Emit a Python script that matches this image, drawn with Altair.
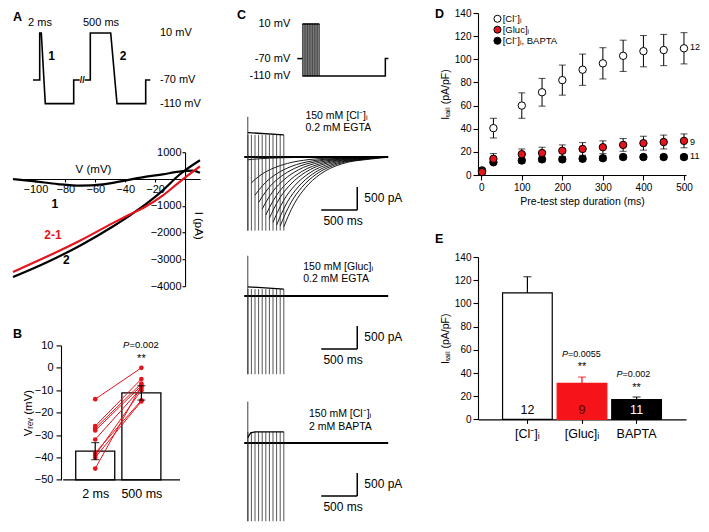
import altair as alt
import pandas as pd

FONT = "Liberation Sans"
RED = "#e3141b"
BAR_RED = "#f5141a"

# ---------------- Panel A (top): voltage protocol, schematic time units ----------------
protA1_t = [0, 6.7, 6.7, 8.3, 12.3, 40.7, 40.7, 46.7]
protA1_v = [-70, -70, 10, 10, -110, -110, -70, -70]
protA2_t = [51.7, 57.3, 57.3, 77.7, 84.0, 112.7, 112.7, 117.3]
protA2_v = [-70, -70, 10, 10, -110, -110, -70, -70]
protA_lvl_txt = ["10 mV", "-70 mV", "-110 mV"]
protA_lvl_v = [10, -70, -110]

# ---------------- Panel A (bottom): I-V curves ----------------
iv1_V = [-115, -100, -85, -70, -55, -45, -37, -26, -15, -4, 5, 10]
iv1_I = [0, -90, -190, -248, -200, -110, -25, 87, 174, 273, 310, 230]
iv2_V = [-115, -93, -70, -48, -37, -26, -15, -4, 10]
iv2_I = [-3658, -3125, -2480, -1761, -1364, -930, -434, 149, 700]
iv21_V = [-115, -93, -70, -48, -37, -26, -15, -4, 10]
iv21_I = [-3472, -2914, -2294, -1637, -1327, -1017, -620, -124, 471]

# ---------------- Panel B ----------------
b_cats = ["2 ms", "500 ms"]
b_mean = [-37.2, -11.2]
b_sem = [3.8, 3.2]
b_cell_2ms = [-14, -26, -27, -28, -32, -38, -39, -40, -45]
b_cell_500 = [0, -5, -7, -8, -9, -14.5, -10, -15, -8]

# ---------------- Panel C ----------------
sweep_dur = [2, 50, 100, 150, 200, 250, 300, 350, 400, 450, 500]   # ms
cprot_end = 2440
c_titles = [["150 mM [Cl⁻]ᵢ", "0.2 mM EGTA"],
            ["150 mM [Gluc]ᵢ", "0.2 mM EGTA"],
            ["150 mM [Cl⁻]ᵢ", "2 mM BAPTA"]]
c_title_t = [800, 770, 850]
c_title_v = [[890, 620], [630, 370], [637, 348]]
c_onset_top = [875, 875, 900]
c_spike_bottom = [-1600, -1700, -1700]
c_plateau_t = [[0, 500], [0, 500], [0, 40, 100, 500]]
c_plateau_v = [[530, 480], [200, 150], [120, 220, 240, 240]]
c1_tail_amp = [60, 560, 830, 990, 1130, 1260, 1330, 1420, 1480, 1500, 1520]
tail_dt = [0, 60, 150, 300, 500, 800, 1200, 1500]
tail_frac = [1, 0.85, 0.66, 0.44, 0.25, 0.1, 0.03, 0]
sbar_t = [1020, 1520]
sbar_v = [-1150, -650]

# ---------------- Panel D ----------------
d_dur = [2, 30, 100, 150, 200, 250, 300, 350, 400, 450, 500]
d_cl = [3, 40.5, 60, 71.5, 82, 91, 96.5, 103, 107, 108, 109.5]
d_cl_sem = [1, 8.5, 11, 12, 13, 13.5, 13.5, 13.5, 13.5, 13.5, 13.5]
d_gl = [2.5, 14, 18, 19, 21, 22.5, 24, 26, 27.5, 28.5, 29.5]
d_gl_sem = [1, 4.5, 4.5, 5, 5, 5.5, 5.5, 5.5, 6, 6, 6]
d_ba = [4, 11, 12.5, 13.5, 13.5, 14, 14.5, 15.5, 15.5, 15.5, 15.5]
d_ba_sem = [1, 1.5, 2, 2, 2, 2, 2, 2, 2, 2, 2]
d_names = ["[Cl⁻]ᵢ", "[Gluc]ᵢ", "[Cl⁻]ᵢ, BAPTA"]
d_n = ["12", "9", "11"]

# ---------------- Panel E ----------------
e_cats = ["[Cl⁻]ᵢ", "[Gluc]ᵢ", "BAPTA"]
e_mean = [109, 31, 17]
e_sem = [14, 5.5, 2.3]
e_n = ["12", "9", "11"]

# style lists
D_FILL = ["white", RED, "black"]
E_FILL = ["white", BAR_RED, "black"]
E_STROKE = ["black", BAR_RED, "black"]
E_NCOL = ["black", "#5a0000", "white"]


def letter(ch, px, py):
    return alt.Chart(pd.DataFrame({"s": [ch]})).mark_text(
        font=FONT, fontSize=12.5, fontWeight="bold", align="left", baseline="middle", color="black"
    ).encode(x=alt.value(px), y=alt.value(py), text="s:N")


def mk_enc(sx, sy, ax_x=None, ax_y=None, xtype="Q"):
    def X(f, t=xtype):
        return alt.X(f"{f}:{t}", scale=sx, axis=ax_x)

    def Y(f):
        return alt.Y(f"{f}:Q", scale=sy, axis=ax_y)
    return X, Y


def tx(df, X, Y, **mk):
    mk.setdefault("font", FONT)
    mk.setdefault("color", "black")
    return alt.Chart(df).mark_text(**mk).encode(x=X("x"), y=Y("y"), text="s:N")


# ======== A top ========
sxA = alt.Scale(domain=[-20, 117.3], nice=False, zero=False)
syA = alt.Scale(domain=[-112, 43.9], nice=False, zero=False)
XA, YA = mk_enc(sxA, syA)
a_df = pd.DataFrame({
    "t": protA1_t + protA2_t, "v": protA1_v + protA2_v,
    "seg": ["a"] * len(protA1_t) + ["b"] * len(protA2_t),
    "k": list(range(len(protA1_t))) + list(range(len(protA2_t))),
})
a_line = alt.Chart(a_df).mark_line(color="black", strokeWidth=1.6).encode(
    x=XA("t"), y=YA("v"), detail="seg:N", order="k:Q")
a_dur = tx(pd.DataFrame({"x": [7, 68], "y": [27, 27], "s": ["2 ms", "500 ms"]}), XA, YA,
           fontSize=11, baseline="middle")
a_num = tx(pd.DataFrame({"x": [18.5, 90], "y": [-29, -29], "s": ["1", "2"]}), XA, YA,
           fontSize=12, fontWeight="bold", baseline="middle")
a_lvl = tx(pd.DataFrame({"x": [127] * 3, "y": protA_lvl_v, "s": protA_lvl_txt}), XA, YA,
           fontSize=11, align="left", baseline="middle")
a_brk = tx(pd.DataFrame({"x": [49.2], "y": [-70], "s": ["//"]}), XA, YA,
           fontSize=9, fontWeight="bold", baseline="middle")
panel_a_top = alt.layer(a_line, a_dur, a_num, a_lvl, a_brk, letter("A", 0, 3.5)).properties(
    width=137.3, height=91.8)

# ======== A bottom (I-V) ========
W_IV, H_IV = 187, 134
sxIV = alt.Scale(domain=[-115, 10], nice=False, zero=False)
syIV = alt.Scale(domain=[-4000, 1000], nice=False, zero=False)
axIVx = alt.Axis(orient="bottom", offset=-(H_IV * 4 / 5), values=[-100, -80, -60, -40, -20],
                 tickSize=3, labelPadding=1, labelFontSize=11, title="V (mV)", titleX=80, titleY=-5,
                 titleAlign="center", titleBaseline="bottom", titleFontSize=11.5, format="d")
axIVy = alt.Axis(orient="left", offset=-(W_IV * 115 / 125), values=[1000, -1000, -2000, -3000, -4000],
                 tickSize=3, labelPadding=1, labelFontSize=11, title="I (pA)", titleAngle=90,
                 titleX=12, titleY=73, titleAlign="center", titleBaseline="middle", titleFontSize=11.5,
                 format="d")
XIV, YIV = mk_enc(sxIV, syIV, axIVx, axIVy)
iv_df = pd.DataFrame({
    "V": iv1_V + iv2_V + iv21_V, "I": iv1_I + iv2_I + iv21_I,
    "c": ["1"] * len(iv1_V) + ["2"] * len(iv2_V) + ["2-1"] * len(iv21_V)})
iv_df["col"] = iv_df["c"].map({"1": "black", "2": "black", "2-1": RED})
iv_lines = alt.Chart(iv_df).mark_line(strokeWidth=2.2, interpolate="monotone").encode(
    x=XIV("V"), y=YIV("I"), color=alt.Color("col:N", scale=None), detail="c:N")
iv_lab_df = pd.DataFrame({"x": [-87, -88.3, -79.4], "y": [-930, -2108, -3037], "s": ["1", "2-1", "2"]})
iv_lab_df["col"] = ["black", RED, "black"]
iv_lab = alt.Chart(iv_lab_df).mark_text(font=FONT, fontSize=12, fontWeight="bold", baseline="middle").encode(
    x=XIV("x"), y=YIV("y"), text="s:N", color=alt.Color("col:N", scale=None))
panel_a_iv = alt.layer(iv_lines, iv_lab).properties(width=W_IV, height=H_IV)

# ======== B (categories at positions 1, 2 on a linear axis) ========
PXB = 49.0                      # px per category step
sxB = alt.Scale(domain=[1 - 82 / PXB, 2 + 41 / PXB], nice=False, zero=False)
syB = alt.Scale(domain=[-50, 10], nice=False, zero=False)
axBx = alt.Axis(title=None, values=[1, 2], labelExpr=f"{b_cats}[datum.value - 1]", labelAngle=0,
                labelFontSize=12.5, ticks=False, domain=False, labelPadding=8)
axBy = alt.Axis(orient="left", offset=-48, values=list(range(-50, 11, 10)), tickSize=5, labelPadding=3,
                labelFontSize=11, title="Vᵣₑᵥ (mV)", titleFontSize=11.5, titlePadding=1)
XB, YB = mk_enc(sxB, syB, axBx, axBy)
b_pos = [i + 1 for i in range(len(b_cats))]
b_df = pd.DataFrame({"pos": b_pos, "mean": b_mean,
                     "lo": [m - s for m, s in zip(b_mean, b_sem)],
                     "hi": [m + s for m, s in zip(b_mean, b_sem)]})
b_bars = alt.Chart(b_df).mark_bar(fill="white", stroke="black", strokeWidth=1.3, size=39).encode(
    x=XB("pos"), y=YB("mean"), y2=alt.datum(-50))
b_axis_line = alt.Chart(pd.DataFrame({"x0": [1 - 34 / PXB], "x1": [2 + 41 / PXB], "y": [-50]})).mark_rule(
    color="black", strokeWidth=1.3).encode(x=XB("x0"), x2="x1:Q", y=YB("y"))
pair_df = pd.DataFrame({"cell": list(range(len(b_cell_2ms))) * 2,
                        "pos": [1] * len(b_cell_2ms) + [2] * len(b_cell_500),
                        "v": b_cell_2ms + b_cell_500})
b_lines = alt.Chart(pair_df).mark_line(color=RED, strokeWidth=1).encode(
    x=XB("pos"), y=YB("v"), detail="cell:N")
b_pts = alt.Chart(pair_df).mark_circle(color=RED, size=22, opacity=1).encode(x=XB("pos"), y=YB("v"))
b_err = alt.Chart(b_df).mark_rule(color="black", strokeWidth=1.2).encode(
    x=XB("pos"), y=YB("lo"), y2="hi:Q")
b_cap = alt.Chart(b_df).transform_fold(["lo", "hi"], as_=["w", "val"]).mark_tick(
    color="black", thickness=1.2, size=8, orient="horizontal").encode(x=XB("pos"), y=YB("val"))
b_p1 = tx(pd.DataFrame({"x": [2], "y": [10], "s": ["P"]}), XB, YB,
          fontSize=9.5, fontStyle="italic", align="right", dx=-12, baseline="middle")
b_p2 = tx(pd.DataFrame({"x": [2], "y": [10], "s": ["=0.002"]}), XB, YB,
          fontSize=9.5, align="left", dx=-12, baseline="middle")
b_st = tx(pd.DataFrame({"x": [2], "y": [4], "s": ["**"]}), XB, YB, fontSize=11, baseline="middle")
panel_b = alt.layer(b_bars, b_axis_line, b_lines, b_pts, b_err, b_cap, b_p1, b_p2, b_st,
                    letter("B", 0, -11)).properties(width=172, height=134.4)

# ======== C protocol ========
sxCP = alt.Scale(domain=[-1924, 2530], nice=False, zero=False)
syCP = alt.Scale(domain=[-158.7, 35.3], nice=False, zero=False)
XCP, YCP = mk_enc(sxCP, syCP)
cp_block = alt.Chart(pd.DataFrame({"t0": [0], "t1": [max(sweep_dur)], "v0": [-110], "v1": [10]})).mark_rect(
    fill="#8f8f8f").encode(x=XCP("t0"), x2="t1:Q", y=YCP("v0"), y2="v1:Q")
cp_rules = alt.Chart(pd.DataFrame({"t": sweep_dur, "v0": [-110] * len(sweep_dur),
                                   "v1": [10] * len(sweep_dur)})).mark_rule(
    color="#333333", strokeWidth=0.8).encode(x=XCP("t"), y=YCP("v0"), y2="v1:Q")
cp_path = pd.DataFrame({
    "t": [-150, 0, 0, max(sweep_dur), 0, cprot_end, cprot_end, 2530],
    "v": [-70, -70, 10, 10, -110, -110, -70, -70],
    "seg": ["h", "h", "top", "top", "b", "b", "b", "b"],
    "k": [0, 1, 0, 1, 0, 1, 2, 3]})
cp_line = alt.Chart(cp_path).mark_line(color="black", strokeWidth=1.5).encode(
    x=XCP("t"), y=YCP("v"), detail="seg:N", order="k:Q")
cp_lab = tx(pd.DataFrame({"x": [-356] * 3, "y": protA_lvl_v, "s": protA_lvl_txt}), XCP, YCP,
            fontSize=11, align="right", baseline="middle")
panel_c_prot = alt.layer(cp_block, cp_rules, cp_line, cp_lab, letter("C", 0, 1.7)).properties(
    width=151.4, height=84)


# ======== C traces ========
def trace_panel(i, top=1000):
    sx = alt.Scale(domain=[-150, 1950], nice=False, zero=False)
    sy = alt.Scale(domain=[-1700, top], nice=False, zero=False)
    X, Y = mk_enc(sx, sy)
    layers = []
    if i == 0:
        rows = []
        for j, (d, a) in enumerate(zip(sweep_dur, c1_tail_amp)):
            for dt, fr in zip(tail_dt, tail_frac):
                rows.append({"sw": j, "t": d + dt, "I": -a * fr})
        layers.append(alt.Chart(pd.DataFrame(rows)).mark_line(
            color="black", strokeWidth=0.9, interpolate="monotone", clip=True).encode(
            x=X("t"), y=Y("I"), detail="sw:N"))
    layers.append(alt.Chart(pd.DataFrame({"t": [-50, 1950], "I": [0, 0]})).mark_line(
        color="black", strokeWidth=2.2).encode(x=X("t"), y=Y("I")))
    layers.append(alt.Chart(pd.DataFrame({
        "t": sweep_dur, "top": [c_plateau_v[i][-1]] * len(sweep_dur),
        "bot": [c_spike_bottom[i]] * len(sweep_dur)})).mark_rule(
        color="#2a2a2a", strokeWidth=0.8).encode(x=X("t"), y=Y("top"), y2="bot:Q"))
    layers.append(alt.Chart(pd.DataFrame({"t": [0], "top": [c_onset_top[i]],
                                          "bot": [c_spike_bottom[i]]})).mark_rule(
        color="#2a2a2a", strokeWidth=0.9).encode(x=X("t"), y=Y("top"), y2="bot:Q"))
    layers.append(alt.Chart(pd.DataFrame({"t": c_plateau_t[i], "I": c_plateau_v[i]})).mark_line(
        color="black", strokeWidth=1.3).encode(x=X("t"), y=Y("I")))
    layers.append(alt.Chart(pd.DataFrame({"t0": [sbar_t[0]], "t1": [sbar_t[1]], "v": [sbar_v[0]]})).mark_rule(
        color="black", strokeWidth=1.5).encode(x=X("t0"), x2="t1:Q", y=Y("v")))
    layers.append(alt.Chart(pd.DataFrame({"t": [sbar_t[1]], "v0": [sbar_v[0]], "v1": [sbar_v[1]]})).mark_rule(
        color="black", strokeWidth=1.5).encode(x=X("t"), y=Y("v0"), y2="v1:Q"))
    layers.append(tx(pd.DataFrame({"x": [1618], "y": [-900], "s": ["500 pA"]}), X, Y,
                     fontSize=12, align="left", baseline="middle"))
    layers.append(tx(pd.DataFrame({"x": [1050], "y": [-1390], "s": ["500 ms"]}), X, Y,
                     fontSize=12, align="left", baseline="middle"))
    layers.append(tx(pd.DataFrame({"x": [c_title_t[i]] * 2, "y": c_title_v[i], "s": c_titles[i]}),
                     X, Y, fontSize=10.5, align="left", baseline="middle"))
    return alt.layer(*layers).properties(width=151.2, height=0.046 * (top + 1700))


# ======== D ========
sxD = alt.Scale(domain=[-8, 505], nice=False, zero=False)
syD = alt.Scale(domain=[0, 140], nice=False, zero=False)
axDx = alt.Axis(values=[0, 100, 200, 300, 400, 500], tickSize=5, labelPadding=2, labelFontSize=10,
                title="Pre-test step duration (ms)", titleFontSize=10.5, titlePadding=4)
axDy = alt.Axis(values=list(range(0, 141, 20)), tickSize=5, labelPadding=2, labelFontSize=10,
                title="Iₜₐᵢₗ (pA/pF)", titleFontSize=10.5, titlePadding=4)
XD, YD = mk_enc(sxD, syD, axDx, axDy)
rows = []
for k, m, s in [(2, d_ba, d_ba_sem), (0, d_cl, d_cl_sem), (1, d_gl, d_gl_sem)]:
    for x, mm, ss in zip(d_dur, m, s):
        rows.append({"series": d_names[k], "fill": D_FILL[k], "dur": x, "mean": mm,
                     "lo": mm - ss, "hi": mm + ss})
d_df = pd.DataFrame(rows)
d_err = alt.Chart(d_df).mark_rule(color="black", strokeWidth=1).encode(
    x=XD("dur"), y=YD("lo"), y2="hi:Q")
d_cap = alt.Chart(d_df).transform_fold(["lo", "hi"], as_=["w", "val"]).mark_tick(
    color="black", thickness=1, size=7, orient="horizontal").encode(x=XD("dur"), y=YD("val"))
d_pts = alt.Chart(d_df).mark_point(shape="circle", filled=True, size=55, stroke="black",
                                   strokeWidth=1, opacity=1).encode(
    x=XD("dur"), y=YD("mean"), fill=alt.Fill("fill:N", scale=None))
leg_df = pd.DataFrame({"fill": D_FILL, "x": [40] * 3, "y": [135, 125.6, 116], "s": d_names})
d_leg_pts = alt.Chart(leg_df).mark_point(shape="circle", filled=True, size=50, stroke="black",
                                         strokeWidth=1, opacity=1).encode(
    x=XD("x"), y=YD("y"), fill=alt.Fill("fill:N", scale=None))
d_leg_txt = tx(leg_df.assign(x=53), XD, YD, fontSize=9.5, align="left", baseline="middle")
d_n_txt = tx(pd.DataFrame({"x": [515] * 3, "y": [111, 28.7, 16], "s": d_n}), XD, YD,
             fontSize=9, align="left", baseline="middle")
panel_d = alt.layer(d_err, d_cap, d_pts, d_leg_pts, d_leg_txt, d_n_txt,
                    letter("D", -43, 1)).properties(width=208, height=162)

# ======== E ========
sxE = alt.Scale(domain=e_cats, paddingInner=0.09, paddingOuter=0.45)
syE = alt.Scale(domain=[0, 140], nice=False, zero=False)
axEx = alt.Axis(title=None, labelAngle=0, labelFontSize=12.5, tickSize=4, labelPadding=4)
axEy = alt.Axis(values=list(range(0, 141, 20)), tickSize=5, labelPadding=2, labelFontSize=10,
                title="Iₜₐᵢₗ (pA/pF)", titleFontSize=10.5, titlePadding=4)
XE, YE = mk_enc(sxE, syE, axEx, axEy, xtype="N")
e_df = pd.DataFrame({"cat": e_cats, "mean": e_mean, "hi": [m + s for m, s in zip(e_mean, e_sem)],
                     "n": e_n, "ny": [7.8] * 3, "fill": E_FILL, "stroke": E_STROKE, "ncol": E_NCOL})
e_bars = alt.Chart(e_df).mark_bar(strokeWidth=1.2).encode(
    x=XE("cat"), y=YE("mean"), fill=alt.Fill("fill:N", scale=None),
    stroke=alt.Stroke("stroke:N", scale=None))
e_err = alt.Chart(e_df).mark_rule(strokeWidth=1.2).encode(
    x=XE("cat"), y=YE("mean"), y2="hi:Q", stroke=alt.Stroke("stroke:N", scale=None))
e_cap = alt.Chart(e_df).mark_tick(thickness=1.2, size=8).encode(
    x=XE("cat"), y=YE("hi"), color=alt.Color("stroke:N", scale=None))
e_ntxt = alt.Chart(e_df).mark_text(font=FONT, fontSize=12.5, baseline="middle").encode(
    x=XE("cat"), y=YE("ny"), text="n:N", color=alt.Color("ncol:N", scale=None))
e_p1 = tx(pd.DataFrame({"x": [e_cats[1], e_cats[2]], "y": [56, 38.8], "s": ["P", "P"]}), XE, YE,
          fontSize=9, fontStyle="italic", align="right", dx=-14, baseline="middle")
e_p2a = tx(pd.DataFrame({"x": [e_cats[1]], "y": [56], "s": ["=0.0055"]}), XE, YE,
           fontSize=9, align="left", dx=-14, baseline="middle")
e_p2b = tx(pd.DataFrame({"x": [e_cats[2]], "y": [38.8], "s": ["=0.002"]}), XE, YE,
           fontSize=9, align="left", dx=-14, baseline="middle")
e_st = tx(pd.DataFrame({"x": [e_cats[1], e_cats[2]], "y": [45, 27.5], "s": ["**", "**"]}), XE, YE,
          fontSize=11, baseline="middle")
panel_e = alt.layer(e_bars, e_err, e_cap, e_ntxt, e_p1, e_p2a, e_p2b, e_st,
                    letter("E", -43, -18)).properties(width=208, height=162.4)

# ======== layout ========
col1 = alt.vconcat(panel_a_top, panel_a_iv, panel_b, spacing=37.2)
col2 = alt.vconcat(panel_c_prot, trace_panel(0), trace_panel(1), trace_panel(2, top=1174), spacing=14)
col3 = alt.vconcat(panel_d, panel_e, spacing=26)

chart = alt.hconcat(col1, col2, col3, spacing=32).properties(
    padding=0
).configure_view(stroke=None).configure_axis(
    grid=False, domainColor="black", tickColor="black", labelColor="black", titleColor="black",
    labelFont=FONT, titleFont=FONT, titleFontWeight="normal", domainWidth=1.1, tickWidth=1.1
).configure_text(font=FONT)

chart.save("out.html", embed_options={"renderer": "svg", "actions": False})
